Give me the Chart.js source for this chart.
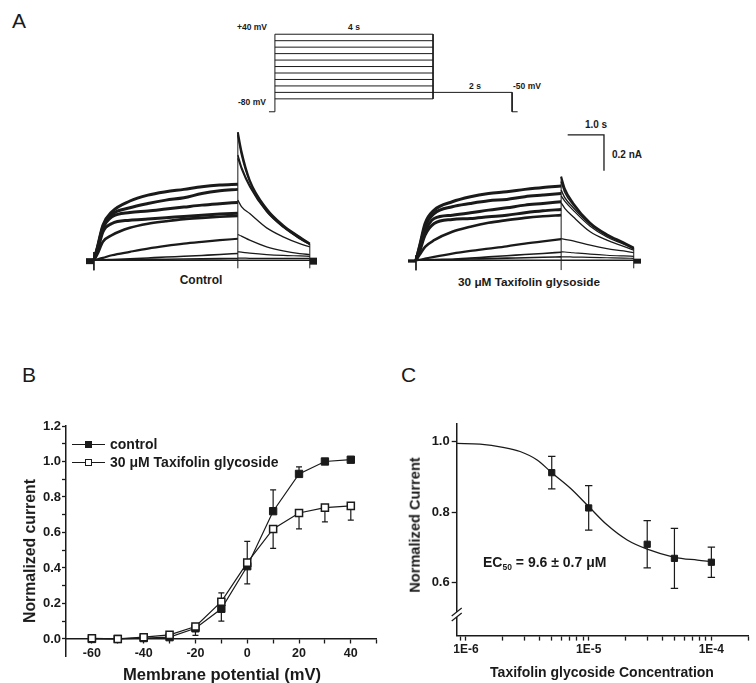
<!DOCTYPE html>
<html>
<head>
<meta charset="utf-8">
<script src="https://cdn.jsdelivr.net/npm/chart.js@4.4.1/dist/chart.umd.min.js"></script>
<style>
  html, body { margin: 0; padding: 0; background: #fff; }
  body { width: 756px; height: 683px; position: relative; overflow: hidden;
         font-family: "Liberation Sans", Arial, sans-serif; color: #1a1a1a; }
  canvas { position: absolute; }
  .t { position: absolute; white-space: nowrap; font-weight: bold; line-height: 1; }
  .c { transform: translate(-50%, -50%); }
  .l { transform: translate(0, -50%); }
  .v { transform: translate(-50%, -50%) rotate(-90deg); }
  .p { position: absolute; font-weight: normal; font-size: 21px; line-height: 1; transform: translate(0, -50%); }
  .mk { position: absolute; box-sizing: border-box; }
</style>
</head>
<body>

<!-- panel letters -->
<div class="p" style="left:12px;top:20px">A</div>
<div class="p" style="left:22px;top:374px">B</div>
<div class="p" style="left:401px;top:373.5px">C</div>

<!-- protocol labels -->
<div class="t l" style="left:237px;top:27px;font-size:8.5px">+40 mV</div>
<div class="t c" style="left:354px;top:27px;font-size:8.5px">4 s</div>
<div class="t l" style="left:238px;top:102px;font-size:8.5px">-80 mV</div>
<div class="t c" style="left:475px;top:86px;font-size:8.5px">2 s</div>
<div class="t l" style="left:513px;top:86px;font-size:8.5px">-50 mV</div>

<!-- scale bar labels -->
<div class="t c" style="left:596px;top:125px;font-size:10px">1.0 s</div>
<div class="t l" style="left:612px;top:155px;font-size:10px">0.2 nA</div>

<div class="t c" style="left:201px;top:280px;font-size:12px">Control</div>
<div class="t c" style="left:529px;top:283px;font-size:11.8px">30 μM Taxifolin glysoside</div>

<canvas id="protoChart" width="253" height="84" style="left:267px;top:31px"></canvas>
<canvas id="ctrlChart" width="231" height="145" style="left:86px;top:126px"></canvas>
<canvas id="taxiChart" width="233" height="145" style="left:408px;top:126px"></canvas>
<canvas id="ivChart" width="400" height="283" style="left:0px;top:400px"></canvas>
<canvas id="doseChart" width="376" height="283" style="left:380px;top:400px"></canvas>

<!-- panel B legend -->
<div class="mk" style="left:72px;top:443.5px;width:33px;height:1.3px;background:#1a1a1a"></div>
<div class="mk" style="left:84.5px;top:440.5px;width:7.5px;height:7.5px;background:#1a1a1a"></div>
<div class="t l" style="left:110px;top:444px;font-size:14px">control</div>
<div class="mk" style="left:72px;top:461.5px;width:33px;height:1.3px;background:#1a1a1a"></div>
<div class="mk" style="left:84.5px;top:458.5px;width:7.5px;height:7.5px;background:#fff;border:1.5px solid #1a1a1a"></div>
<div class="t l" style="left:110px;top:462px;font-size:14px">30 μM Taxifolin glycoside</div>

<!-- axis titles -->
<div class="t v" style="left:29.5px;top:551px;font-size:15.8px">Normalized current</div>
<div class="t c" style="left:222px;top:675px;font-size:16.6px">Membrane potential (mV)</div>
<div class="t v" style="left:415px;top:525px;font-size:14.6px">Normalized Current</div>
<div class="t c" style="left:602px;top:672px;font-size:14px">Taxifolin glycoside Concentration</div>
<div class="t l" style="left:483px;top:563px;font-size:14px">EC<sub style="font-size:8.5px;vertical-align:-3px">50</sub> = 9.6 ± 0.7 μM</div>

<script>
/* ================= DATA ================= */
// A: voltage protocol (mV, s)
const stepLevels = [40, 30, 20, 10, 0, -10, -20, -30, -40, -50, -60];
const holdingMv = -80;
const tailMv = -50;
const stepDur = 4;
const tailDur = 2;

// A: current traces (nA)
const stepTimes = [0, 0.1, 0.25, 0.5, 1, 1.5, 2, 2.5, 3, 3.5, 4];
const tailTimes = [4, 4.1, 4.33, 4.8, 5.26, 5.72, 6];

const controlSteps = [
  [0, 0.075, 0.196, 0.271, 0.331, 0.364, 0.383, 0.396, 0.411, 0.420, 0.424],
  [0, 0.070, 0.187, 0.256, 0.293, 0.317, 0.336, 0.349, 0.373, 0.388, 0.396],
  [0, 0.065, 0.177, 0.243, 0.267, 0.275, 0.286, 0.297, 0.308, 0.316, 0.323],
  [0, 0.055, 0.159, 0.205, 0.224, 0.230, 0.237, 0.245, 0.252, 0.258, 0.263],
  [0, 0.035, 0.103, 0.140, 0.181, 0.204, 0.218, 0.230, 0.237, 0.243, 0.248],
  [0, 0.005, 0.013, 0.028, 0.047, 0.065, 0.080, 0.093, 0.103, 0.112, 0.120],
  [0, 0.001, 0.002, 0.004, 0.008, 0.013, 0.018, 0.022, 0.027, 0.032, 0.038],
  [0, 0, 0.001, 0.002, 0.003, 0.005, 0.006, 0.007, 0.008, 0.009, 0.010]
];
const controlTails = [
  [0.715, 0.610, 0.448, 0.289, 0.196, 0.131, 0.093],
  [0.700, 0.590, 0.440, 0.283, 0.192, 0.128, 0.091],
  [0.588, 0.523, 0.420, 0.275, 0.187, 0.121, 0.088],
  [0.570, 0.510, 0.410, 0.270, 0.184, 0.120, 0.087],
  [0.336, 0.300, 0.261, 0.181, 0.131, 0.093, 0.075],
  [0.144, 0.135, 0.112, 0.075, 0.052, 0.037, 0.032],
  [0.047, 0.045, 0.040, 0.032, 0.027, 0.024, 0.022],
  [0.012, 0.012, 0.011, 0.011, 0.010, 0.010, 0.010]
];
const taxiSteps = [
  [0, 0.080, 0.205, 0.280, 0.327, 0.355, 0.373, 0.383, 0.396, 0.407, 0.415],
  [0, 0.075, 0.187, 0.261, 0.299, 0.317, 0.332, 0.340, 0.355, 0.364, 0.373],
  [0, 0.060, 0.159, 0.233, 0.252, 0.265, 0.280, 0.293, 0.308, 0.317, 0.327],
  [0, 0.050, 0.140, 0.205, 0.228, 0.233, 0.243, 0.252, 0.265, 0.276, 0.284],
  [0, 0.030, 0.075, 0.112, 0.159, 0.187, 0.209, 0.224, 0.237, 0.246, 0.252],
  [0, 0.003, 0.009, 0.019, 0.037, 0.052, 0.065, 0.078, 0.093, 0.106, 0.118],
  [0, 0.001, 0.002, 0.004, 0.006, 0.012, 0.019, 0.025, 0.032, 0.038, 0.045],
  [0, 0, 0.001, 0.002, 0.004, 0.007, 0.009, 0.012, 0.014, 0.017, 0.019]
];
const taxiTails = [
  [0.467, 0.400, 0.320, 0.210, 0.145, 0.100, 0.071],
  [0.440, 0.380, 0.310, 0.205, 0.140, 0.097, 0.068],
  [0.392, 0.350, 0.295, 0.200, 0.138, 0.095, 0.065],
  [0.360, 0.330, 0.280, 0.190, 0.130, 0.090, 0.062],
  [0.321, 0.290, 0.243, 0.159, 0.112, 0.078, 0.056],
  [0.121, 0.117, 0.108, 0.084, 0.065, 0.052, 0.043],
  [0.047, 0.046, 0.042, 0.034, 0.028, 0.024, 0.022],
  [0.019, 0.019, 0.018, 0.016, 0.014, 0.012, 0.011]
];
const stepWidths = [3, 3, 3, 3, 2.6, 2.2, 1.6, 1.6];
const tailWidths = [2, 1.6, 1.4, 1.3, 1.3, 1.3, 1.2, 1.2];

// B: I-V relation
const voltages = [-60, -50, -40, -30, -20, -10, 0, 10, 20, 30, 40];
const controlI = [0.0, 0.0, 0.005, 0.01, 0.06, 0.17, 0.41, 0.72, 0.93, 1.0, 1.01];
const taxiI = [0.004, 0.0, 0.01, 0.023, 0.07, 0.21, 0.43, 0.62, 0.71, 0.74, 0.75];
const controlErrUp = [0, 0, 0, 0, 0, 0, 0.14, 0.12, 0.04, 0, 0];
const controlErrDn = [0, 0, 0, 0, 0.04, 0.07, 0, 0, 0, 0, 0];
const taxiErrUp = [0, 0, 0, 0, 0, 0.05, 0, 0, 0, 0, 0];
const taxiErrDn = [0, 0, 0, 0, 0, 0, 0.12, 0.11, 0.09, 0.08, 0.08];
const ivTicksX = [-60, -50, -40, -30, -20, -10, 0, 10, 20, 30, 40, 50];
const ivTicksY = [0, 0.1, 0.2, 0.3, 0.4, 0.5, 0.6, 0.7, 0.8, 0.9, 1.0, 1.1, 1.2];

// C: concentration response
const concs = [5e-6, 1e-5, 3e-5, 5e-5, 1e-4];
const normCur = [0.912, 0.812, 0.709, 0.669, 0.658];
const normErr = [0.046, 0.063, 0.067, 0.085, 0.043];
const fitConc = [8.4e-7, 1.3e-6, 2e-6, 2.76e-6, 3.8e-6, 5e-6, 7.1e-6, 1e-5, 1.41e-5, 2.06e-5, 3e-5, 5e-5, 7.7e-5, 1e-4];
const fitCur = [0.995, 0.993, 0.984, 0.972, 0.948, 0.912, 0.868, 0.816, 0.764, 0.721, 0.695, 0.672, 0.664, 0.66];
const doseTicksX = [9e-7, 1e-6, 2e-6, 3e-6, 4e-6, 5e-6, 6e-6, 7e-6, 8e-6, 9e-6,
  1e-5, 2e-5, 3e-5, 4e-5, 5e-5, 6e-5, 7e-5, 8e-5, 9e-5, 1e-4, 2e-4];
const doseTicksY = [0.6, 0.8, 1.0];

/* ================= DEFAULTS ================= */
const INK = "#1a1a1a";
Chart.defaults.font.family = "'Liberation Sans', Arial, sans-serif";
Chart.defaults.font.weight = "bold";
Chart.defaults.color = INK;
Chart.defaults.animation = false;
Chart.defaults.responsive = false;
Chart.defaults.devicePixelRatio = 1;
Chart.defaults.events = [];
Chart.defaults.plugins.legend.display = false;
Chart.defaults.plugins.tooltip.enabled = false;

function line(points, width, smooth) {
  return {
    data: points, borderColor: INK, backgroundColor: INK, borderWidth: width,
    pointRadius: 0, fill: false, clip: false, tension: 0,
    cubicInterpolationMode: smooth ? "monotone" : "default"
  };
}
const pts = (xs, ys) => xs.map((x, i) => ({ x: x, y: ys[i] }));

/* ================= ERROR BARS ================= */
const errorBars = {
  id: "errorBars",
  beforeDatasetsDraw(chart, args, opts) {
    const { ctx, scales: { x, y } } = chart;
    ctx.save();
    ctx.strokeStyle = INK;
    ctx.lineWidth = opts.width || 1.2;
    ctx.beginPath();
    chart.data.datasets.forEach(ds => {
      if (!ds.errUp) return;
      ds.data.forEach((p, i) => {
        const px = x.getPixelForValue(p.x), py = y.getPixelForValue(p.y);
        [[ds.errUp[i], 1], [ds.errDn[i], -1]].forEach(([e, s]) => {
          if (!e) return;
          const ey = y.getPixelForValue(p.y + s * e);
          ctx.moveTo(px, py); ctx.lineTo(px, ey);
          ctx.moveTo(px - opts.cap, ey); ctx.lineTo(px + opts.cap, ey);
        });
      });
    });
    ctx.stroke();
    ctx.restore();
  }
};

/* ================= PROTOCOL ================= */
function buildProtocol() {
  const sets = stepLevels.map(v => line(pts([0, stepDur], [v, v]), 1));
  sets.push(line(pts([-0.15, 0, 0], [holdingMv, holdingMv, stepLevels[0]]), 1));
  sets.push(line(pts([stepDur, stepDur], [stepLevels[0], stepLevels[stepLevels.length - 1]]), 1));
  const tEnd = stepDur + tailDur;
  sets.push(line(pts([stepDur, tEnd, tEnd, tEnd + 0.14], [tailMv, tailMv, holdingMv, holdingMv]), 1));
  new Chart(document.getElementById("protoChart"), {
    type: "line",
    data: { datasets: sets },
    options: {
      layout: { padding: 0 },
      scales: {
        x: { type: "linear", display: false, min: -0.2, max: 6.2 },
        y: { type: "linear", display: false, min: -85, max: 45 }
      }
    }
  });
}

/* ================= TRACES ================= */
function buildTraces(id, steps, tails, art, withBar) {
  const sets = [];
  // baseline and its end blobs
  sets.push(line(pts([-0.22, 6.2], [0, 0]), 1.6));
  sets.push(line(pts([-0.22, 0], [-0.005, -0.005]), art.leftBlob));
  sets.push(line(pts([6, 6.2], [-0.005, -0.005]), art.rightBlob));
  // capacitive artefacts
  sets.push(line(pts([0, 0], [art.on[0], art.on[1]]), 1));
  sets.push(line(pts([4, 4], [art.mid[0], art.mid[1]]), 1));
  sets.push(line(pts([6, 6], [art.off[0], art.off[1]]), 1));
  steps.forEach((s, i) => {
    sets.push(line(pts(stepTimes, s), stepWidths[i], true));
    sets.push(line(pts(tailTimes, tails[i]), tailWidths[i], true));
  });
  if (withBar) sets.push(line(pts([4.18, 5.18, 5.18], [0.70, 0.70, 0.50]), 1.3));
  new Chart(document.getElementById(id), {
    type: "line",
    data: { datasets: sets },
    options: {
      layout: { padding: 0 },
      scales: {
        x: { type: "linear", display: false, min: -0.22, max: 6.2 },
        y: { type: "linear", display: false, min: -0.06, max: 0.75 }
      }
    }
  });
}

/* ================= PANEL B ================= */
function buildIV() {
  const axisGrid = { drawOnChartArea: false, tickLength: 4, tickColor: INK, tickWidth: 1.3 };
  const axisBorder = { color: INK, width: 1.5 };
  new Chart(document.getElementById("ivChart"), {
    type: "line",
    data: {
      datasets: [
        Object.assign(line(pts(voltages, taxiI), 1.2), {
          pointStyle: "rect", pointRadius: 5, pointBorderWidth: 1.5,
          pointBackgroundColor: "#fff", pointBorderColor: INK,
          errUp: taxiErrUp, errDn: taxiErrDn
        }),
        Object.assign(line(pts(voltages, controlI), 1.2), {
          pointStyle: "rect", pointRadius: 5.2, pointBorderWidth: 1,
          pointBackgroundColor: INK, pointBorderColor: INK,
          errUp: controlErrUp, errDn: controlErrDn
        })
      ]
    },
    options: {
      layout: { padding: { top: 26, right: 23.3, bottom: 26.3, left: 0 } },
      plugins: { errorBars: { cap: 3, width: 1.2 } },
      scales: {
        x: {
          type: "linear", min: -70, max: 50, position: { y: 0 },
          afterBuildTicks: s => { s.ticks = ivTicksX.map(v => ({ value: v })); },
          grid: axisGrid, border: axisBorder,
          ticks: { padding: 3, autoSkip: false, maxRotation: 0, font: { size: 12.5 },
                   callback: v => (v % 20 === 0 ? String(v) : "") }
        },
        y: {
          type: "linear", min: -0.1, max: 1.2,
          afterFit: s => { s.width = 66; },
          afterBuildTicks: s => { s.ticks = ivTicksY.map(v => ({ value: v })); },
          grid: axisGrid, border: axisBorder,
          ticks: { padding: 1, autoSkip: false, font: { size: 13 },
                   callback: v => (Math.round(v * 10) % 2 === 0 ? v.toFixed(1) : "") }
        }
      }
    },
    plugins: [errorBars]
  });
}

/* ================= PANEL C ================= */
const axisBreak = {
  id: "axisBreak",
  afterDraw(chart, args, opts) {
    const { ctx, chartArea, scales: { y } } = chart;
    const xb = chartArea.left, yb = y.getPixelForValue(opts.at);
    ctx.save();
    ctx.fillStyle = "#fff";
    ctx.fillRect(xb - 2, yb - 2.5, 4, 5);
    ctx.strokeStyle = INK;
    ctx.lineWidth = 1.2;
    ctx.beginPath();
    [-2.5, 2.5].forEach(d => {
      ctx.moveTo(xb - 5, yb + d + 4);
      ctx.lineTo(xb + 5, yb + d - 4);
    });
    ctx.stroke();
    ctx.restore();
  }
};

function buildDose() {
  const axisGrid = { drawOnChartArea: false, tickLength: 5, tickColor: INK, tickWidth: 1.3 };
  const axisBorder = { color: INK, width: 1.5 };
  new Chart(document.getElementById("doseChart"), {
    type: "line",
    data: {
      datasets: [
        Object.assign(line(pts(concs, normCur), 0), {
          showLine: false, pointStyle: "rect", pointRadius: 4.4, pointBorderWidth: 1,
          pointBackgroundColor: INK, pointBorderColor: INK,
          errUp: normErr, errDn: normErr
        }),
        line(pts(fitConc, fitCur), 1.3, true)
      ]
    },
    options: {
      layout: { padding: { top: 24, right: 7.7, bottom: 0, left: 0 } },
      plugins: { errorBars: { cap: 3.7, width: 1.2 }, axisBreak: { at: 0.51 } },
      scales: {
        x: {
          type: "logarithmic", min: 8.4e-7, max: 2e-4,
          afterFit: s => { s.height = 47.4; },
          afterBuildTicks: s => { s.ticks = doseTicksX.map(v => ({ value: v })); },
          grid: axisGrid, border: axisBorder,
          ticks: { padding: 2, autoSkip: false, maxRotation: 0, font: { size: 12 },
                   callback: v => {
                     const e = Math.round(Math.log10(v));
                     return Math.abs(v / Math.pow(10, e) - 1) < 1e-6 ? "1E" + e : "";
                   } }
        },
        y: {
          type: "linear", min: 0.45, max: 1.05,
          afterFit: s => { s.width = 76.7; },
          afterBuildTicks: s => { s.ticks = doseTicksY.map(v => ({ value: v })); },
          grid: axisGrid, border: axisBorder,
          ticks: { padding: 2, font: { size: 13 }, callback: v => v.toFixed(1) }
        }
      }
    },
    plugins: [errorBars, axisBreak]
  });
}

buildProtocol();
buildTraces("ctrlChart", controlSteps, controlTails,
  { on: [0.046, -0.056], mid: [-0.045, 0.715], off: [-0.045, 0.093], leftBlob: 6, rightBlob: 7 }, false);
buildTraces("taxiChart", taxiSteps, taxiTails,
  { on: [0.028, -0.056], mid: [-0.055, 0.467], off: [-0.045, 0.071], leftBlob: 3, rightBlob: 5 }, true);
buildIV();
buildDose();
</script>
</body>
</html>
